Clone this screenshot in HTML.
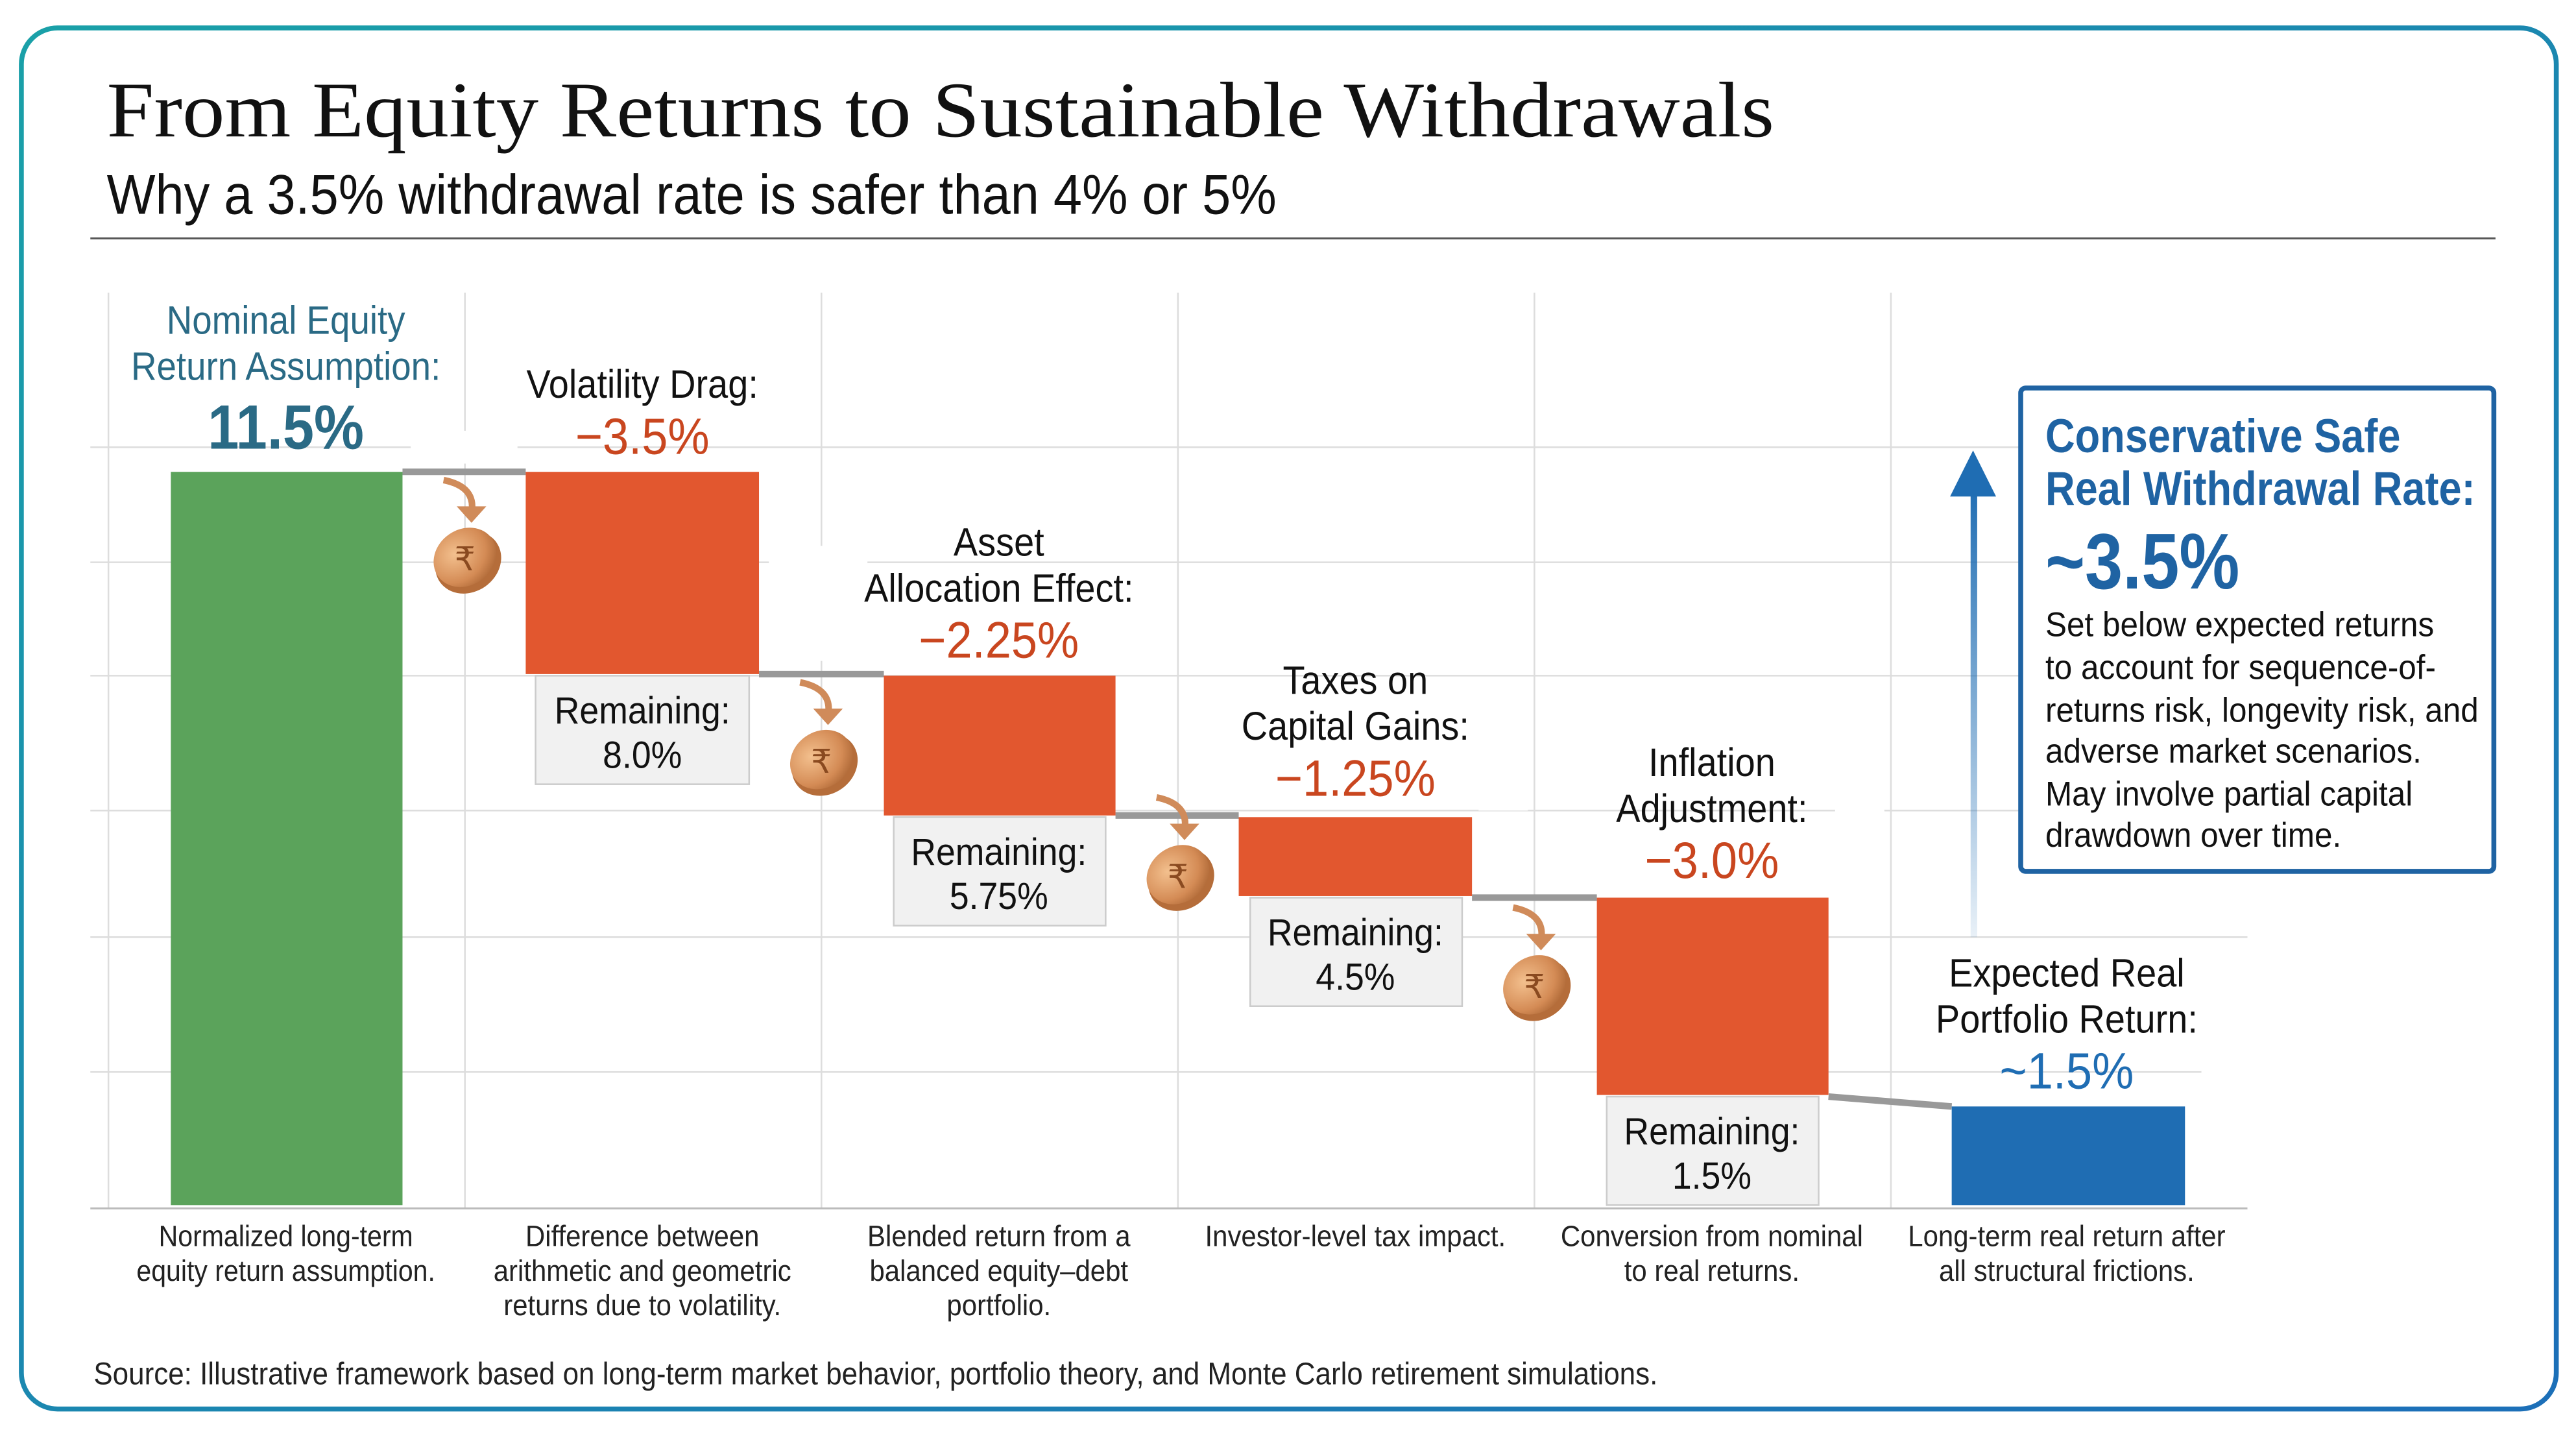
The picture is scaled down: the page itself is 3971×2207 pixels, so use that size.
<!DOCTYPE html>
<html><head><meta charset="utf-8"><style>
html,body{margin:0;padding:0;background:#fff;}
svg{display:block;}
.n{font-family:"Liberation Sans",sans-serif;}
</style></head><body>
<svg width="3971" height="2207" viewBox="0 0 1568 871" preserveAspectRatio="none" xmlns="http://www.w3.org/2000/svg">
<defs>
<linearGradient id="bg" x1="0" y1="0" x2="1" y2="1"><stop offset="0" stop-color="#1aa0a8"/><stop offset="1" stop-color="#1c6fb8"/></linearGradient>
<radialGradient id="coin" cx="0.4" cy="0.35" r="0.7"><stop offset="0" stop-color="#f3c08e"/><stop offset="0.7" stop-color="#d48b55"/><stop offset="1" stop-color="#b06a38"/></radialGradient>
<linearGradient id="ag" x1="0" y1="1" x2="0" y2="0"><stop offset="0" stop-color="#1f6db3" stop-opacity="0.1"/><stop offset="1" stop-color="#1f6db3"/></linearGradient>
</defs>
<rect x="0" y="0" width="1568" height="871" fill="#fff"/>
<rect x="13" y="17" width="1543" height="840" rx="22" fill="#fff" stroke="url(#bg)" stroke-width="3"/>
<text x="65" y="83" font-family="Liberation Serif,serif" font-size="48" fill="#111" textLength="1015" lengthAdjust="spacingAndGlyphs">From Equity Returns to Sustainable Withdrawals</text>
<text x="65" y="130" class="n" font-size="34" fill="#111" textLength="712" lengthAdjust="spacingAndGlyphs">Why a 3.5% withdrawal rate is safer than 4% or 5%</text>
<line x1="55" y1="145" x2="1519" y2="145" stroke="#555" stroke-width="1.2"/>
<g stroke="#ddd" stroke-width="1">
<line x1="66" y1="178" x2="66" y2="735"/><line x1="283" y1="178" x2="283" y2="735"/><line x1="500" y1="178" x2="500" y2="735"/><line x1="717" y1="178" x2="717" y2="735"/><line x1="934" y1="178" x2="934" y2="735"/><line x1="1151" y1="178" x2="1151" y2="735"/>
<line x1="55" y1="272" x2="1368" y2="272"/><line x1="55" y1="342" x2="1368" y2="342"/><line x1="55" y1="411" x2="1368" y2="411"/><line x1="55" y1="493" x2="1368" y2="493"/><line x1="55" y1="570" x2="1368" y2="570"/><line x1="55" y1="652" x2="1368" y2="652"/>
</g>
<line x1="55" y1="735" x2="1368" y2="735" stroke="#bbb" stroke-width="1.2"/>
<g fill="#fff">
<rect x="250" y="262" width="65" height="20"/><rect x="468" y="332" width="60" height="70"/><rect x="900" y="485" width="30" height="8"/><rect x="1117" y="482" width="30" height="16"/><rect x="1340" y="645" width="28" height="15"/>
</g>
<g stroke="#999" stroke-width="4">
<line x1="245" y1="287" x2="320" y2="287"/><line x1="462" y1="410" x2="538" y2="410"/><line x1="679" y1="496" x2="754" y2="496"/><line x1="896" y1="546" x2="972" y2="546"/><line x1="1113" y1="667" x2="1188" y2="673"/>
</g>
<rect x="104" y="287" width="141" height="446" fill="#5ba35b"/>
<rect x="320" y="287" width="142" height="123" fill="#e2572f"/>
<rect x="538" y="411" width="141" height="85" fill="#e2572f"/>
<rect x="754" y="497" width="142" height="48" fill="#e2572f"/>
<rect x="972" y="546" width="141" height="120" fill="#e2572f"/>
<rect x="1188" y="673" width="142" height="60" fill="#1f6db3"/>
<g fill="#f1f1f1" stroke="#ccc" stroke-width="1">
<rect x="326" y="411" width="130" height="66"/><rect x="544" y="497" width="129" height="66"/><rect x="761" y="546" width="129" height="66"/><rect x="978" y="667" width="129" height="66"/>
</g>
<g id="c1">
<path d="M270 292 Q290 296 287 312" fill="none" stroke="#d08b5a" stroke-width="4"/>
<polygon points="278,308 296,308 287,318" fill="#d08b5a"/>
<ellipse cx="285" cy="342" rx="21" ry="18" fill="#b56d3a" transform="rotate(-35 285 342)"/>
<ellipse cx="283" cy="339" rx="20" ry="17" fill="url(#coin)" transform="rotate(-35 283 339)"/>
<text x="283" y="347" font-family="DejaVu Sans,sans-serif" font-size="20" fill="#8a4a20" text-anchor="middle">₹</text>
</g>
<use href="#c1" transform="translate(217,123)"/>
<use href="#c1" transform="translate(434,193)"/>
<use href="#c1" transform="translate(651,260)"/>

<g class="n" text-anchor="middle" fill="#111" font-size="24">
<g transform="translate(174,0) scale(0.9,1)">
<text x="0" y="203" fill="#2a6a85">Nominal Equity</text><text x="0" y="231" fill="#2a6a85">Return Assumption:</text>
<text x="0" y="273" font-weight="bold" font-size="38" fill="#2a6a85">11.5%</text>
<text x="0" y="758" font-size="18" fill="#222">Normalized long-term</text><text x="0" y="779" font-size="18" fill="#222">equity return assumption.</text>
</g>
<g transform="translate(391,0) scale(0.92,1)">
<text x="0" y="242">Volatility Drag:</text><text x="0" y="276" font-size="31" fill="#c9461f">−3.5%</text>
<text x="0" y="440" font-size="23">Remaining:</text><text x="0" y="467" font-size="23">8.0%</text>
<g font-size="18" fill="#222"><text x="0" y="758">Difference between</text><text x="0" y="779">arithmetic and geometric</text><text x="0" y="800">returns due to volatility.</text></g>
</g>
<g transform="translate(608,0) scale(0.92,1)">
<text x="0" y="338">Asset</text><text x="0" y="366">Allocation Effect:</text><text x="0" y="400" font-size="31" fill="#c9461f">−2.25%</text>
<text x="0" y="526" font-size="23">Remaining:</text><text x="0" y="553" font-size="23">5.75%</text>
<g font-size="18" fill="#222"><text x="0" y="758">Blended return from a</text><text x="0" y="779">balanced equity–debt</text><text x="0" y="800">portfolio.</text></g>
</g>
<g transform="translate(825,0) scale(0.92,1)">
<text x="0" y="422">Taxes on</text><text x="0" y="450">Capital Gains:</text><text x="0" y="484" font-size="31" fill="#c9461f">−1.25%</text>
<text x="0" y="575" font-size="23">Remaining:</text><text x="0" y="602" font-size="23">4.5%</text>
<text x="0" y="758" font-size="18" fill="#222">Investor-level tax impact.</text>
</g>
<g transform="translate(1042,0) scale(0.92,1)">
<text x="0" y="472">Inflation</text><text x="0" y="500">Adjustment:</text><text x="0" y="534" font-size="31" fill="#c9461f">−3.0%</text>
<text x="0" y="696" font-size="23">Remaining:</text><text x="0" y="723" font-size="23">1.5%</text>
<g font-size="18" fill="#222"><text x="0" y="758">Conversion from nominal</text><text x="0" y="779">to real returns.</text></g>
</g>
<g transform="translate(1258,0) scale(0.92,1)">
<text x="0" y="600">Expected Real</text><text x="0" y="628">Portfolio Return:</text><text x="0" y="662" font-size="31" fill="#1f6db3">~1.5%</text>
<g font-size="18" fill="#222"><text x="0" y="758">Long-term real return after</text><text x="0" y="779">all structural frictions.</text></g>
</g>
</g>
<text x="57" y="842" class="n" font-size="19" fill="#222" textLength="952" lengthAdjust="spacingAndGlyphs">Source: Illustrative framework based on long-term market behavior, portfolio theory, and Monte Carlo retirement simulations.</text>
<rect x="1199.5" y="295" width="4" height="275" fill="url(#ag)"/>
<polygon points="1187,302 1201,274 1215,302" fill="#1f6db3"/>
<rect x="1230" y="236" width="288" height="294" rx="3" fill="#fff" stroke="#1f63a3" stroke-width="3"/>
<g transform="translate(1245,0) scale(0.86,1)" class="n" fill="#1f63a3" font-weight="bold">
<text x="0" y="275" font-size="29">Conservative Safe</text>
<text x="0" y="307" font-size="29">Real Withdrawal Rate:</text>
<text x="0" y="358" font-size="48">~3.5%</text>
</g>
<g transform="translate(1245,0) scale(0.93,1)" class="n" fill="#111" font-size="21">
<text x="0" y="387">Set below expected returns</text>
<text x="0" y="413">to account for sequence-of-</text>
<text x="0" y="439">returns risk, longevity risk, and</text>
<text x="0" y="464">adverse market scenarios.</text>
<text x="0" y="490">May involve partial capital</text>
<text x="0" y="515">drawdown over time.</text>
</g>
</svg>
</body></html>
